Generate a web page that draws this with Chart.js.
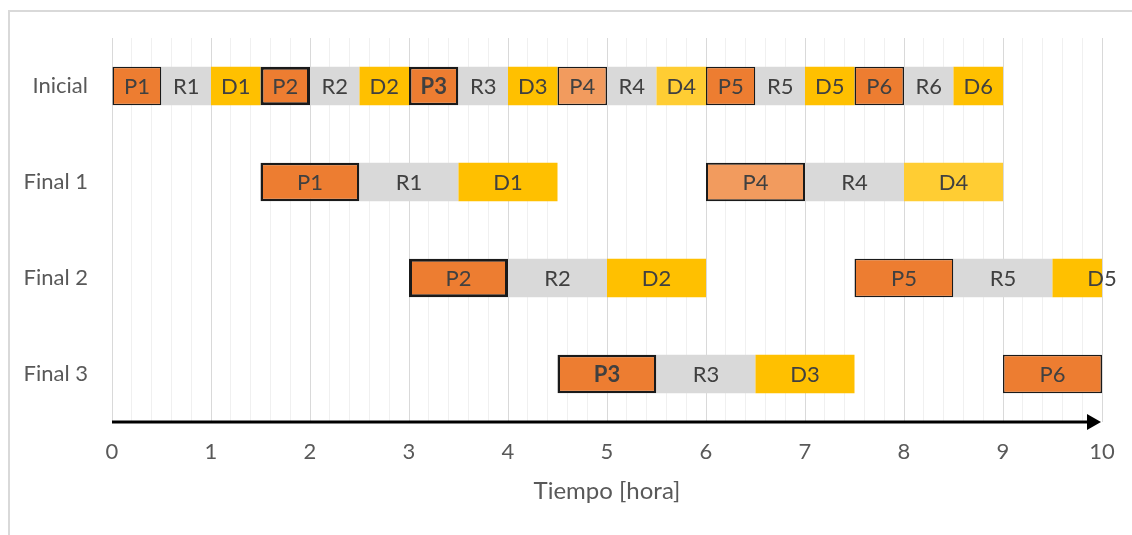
<!DOCTYPE html>
<html>
<head>
<meta charset="utf-8">
<script src="https://cdn.jsdelivr.net/npm/chart.js@4"></script>
<style>
  body { margin: 0; background: #fff; overflow: hidden; }
  #frame { position: absolute; left: 8px; top: 10px; width: 2000px; height: 2000px;
           border-left: 2px solid #d9d9d9; border-top: 2px solid #d9d9d9; }
  #wrap { position: absolute; left: 0; top: 0; width: 1132px; height: 535px; }
</style>
</head>
<body>
<div id="frame"></div>
<div id="wrap"><canvas id="gantt"></canvas></div>
<script>
// rows of the gantt
var rows = ['Inicial', 'Final 1', 'Final 2', 'Final 3'];

// one entry per bar segment
var segNames = ['P1', 'R1', 'D1', 'P2', 'R2', 'D2', 'P3', 'R3', 'D3', 'P4', 'R4', 'D4', 'P5', 'R5', 'D5', 'P6', 'R6', 'D6',
                'P1', 'R1', 'D1', 'P4', 'R4', 'D4',
                'P2', 'R2', 'D2', 'P5', 'R5', 'D5',
                'P3', 'R3', 'D3', 'P6'];
var segRows = ['Inicial', 'Inicial', 'Inicial', 'Inicial', 'Inicial', 'Inicial', 'Inicial', 'Inicial', 'Inicial',
               'Inicial', 'Inicial', 'Inicial', 'Inicial', 'Inicial', 'Inicial', 'Inicial', 'Inicial', 'Inicial',
               'Final 1', 'Final 1', 'Final 1', 'Final 1', 'Final 1', 'Final 1',
               'Final 2', 'Final 2', 'Final 2', 'Final 2', 'Final 2', 'Final 2',
               'Final 3', 'Final 3', 'Final 3', 'Final 3'];
var segStart = [0, 0.5, 1, 1.5, 2, 2.5, 3, 3.5, 4, 4.5, 5, 5.5, 6, 6.5, 7, 7.5, 8, 8.5,
                1.5, 2.5, 3.5, 6, 7, 8,
                3, 4, 5, 7.5, 8.5, 9.5,
                4.5, 5.5, 6.5, 9];
var segEnd = [0.5, 1, 1.5, 2, 2.5, 3, 3.5, 4, 4.5, 5, 5.5, 6, 6.5, 7, 7.5, 8, 8.5, 9,
              2.5, 3.5, 4.5, 7, 8, 9,
              4, 5, 6, 8.5, 9.5, 10.5,
              5.5, 6.5, 7.5, 10];

var xTickLabels = ['0', '1', '2', '3', '4', '5', '6', '7', '8', '9', '10'];

// styling
var fillColors = { P: '#ed7d31', R: '#d9d9d9', D: '#ffc000' };
var lightColors = { P4: '#f29b5e', D4: '#ffcd33' };
var thickBorders = { 3: 3, 6: 2.5, 18: 2.5, 21: 2, 24: 3, 30: 2.5 };
var boldNames = ['P3'];

var bgColors = segNames.map(function(n) { return lightColors[n] || fillColors[n[0]]; });
var bdWidths = segNames.map(function(n, i) {
    if (n[0] !== 'P') return 0;
    return thickBorders[i] || 1.5;
});

var points = segNames.map(function(n, i) {
    return { x: [segStart[i], segEnd[i]], y: segRows[i] };
});

var segLabelPlugin = {
    id: 'segLabels',
    afterDatasetsDraw: function(chart) {
        var ctx = chart.ctx;
        var meta = chart.getDatasetMeta(0);
        ctx.save();
        ctx.textAlign = 'center';
        ctx.textBaseline = 'middle';
        ctx.fillStyle = '#404040';
        meta.data.forEach(function(bar, i) {
            var p = bar.getProps(['x', 'y', 'base'], true);
            var bold = boldNames.indexOf(segNames[i]) >= 0;
            ctx.font = (bold ? 'bold ' : '') + '22px Lato';
            ctx.fillText(segNames[i], (p.x + p.base) / 2, p.y + 1);
        });
        ctx.restore();
    }
};

var arrowPlugin = {
    id: 'timeArrow',
    afterDraw: function(chart) {
        var ctx = chart.ctx;
        var x = chart.scales.x;
        var y = chart.chartArea.bottom;
        var x0 = x.getPixelForValue(0);
        var x1 = x.getPixelForValue(10) - 1;
        ctx.save();
        ctx.strokeStyle = '#000';
        ctx.fillStyle = '#000';
        ctx.lineWidth = 3;
        ctx.beginPath();
        ctx.moveTo(x0, y);
        ctx.lineTo(x1 - 10, y);
        ctx.stroke();
        ctx.beginPath();
        ctx.moveTo(x1, y);
        ctx.lineTo(x1 - 14, y - 8);
        ctx.lineTo(x1 - 14, y + 8);
        ctx.closePath();
        ctx.fill();
        ctx.restore();
    }
};

function isWhole(v) { return Math.abs(v - Math.round(v)) < 1e-6; }

new Chart(document.getElementById('gantt'), {
    type: 'bar',
    data: {
        labels: rows,
        datasets: [{
            data: points,
            backgroundColor: bgColors,
            borderColor: '#1a1a1a',
            borderWidth: bdWidths,
            borderSkipped: false,
            barPercentage: 0.4,
            categoryPercentage: 1
        }]
    },
    options: {
        indexAxis: 'y',
        responsive: true,
        maintainAspectRatio: false,
        animation: false,
        layout: { padding: { top: 38, left: 0, right: 30, bottom: 29 } },
        plugins: { legend: { display: false }, tooltip: { enabled: false } },
        scales: {
            x: {
                min: 0,
                max: 10,
                border: { display: false },
                grid: {
                    drawTicks: false,
                    color: function(c) { return isWhole(c.tick.value) ? '#d9d9d9' : '#f0f0f0'; },
                    lineWidth: 1
                },
                ticks: {
                    stepSize: 0.2,
                    autoSkip: false,
                    maxRotation: 0,
                    padding: 17,
                    color: '#595959',
                    font: { family: 'Lato', size: 22 },
                    callback: function(v) { return isWhole(v) ? xTickLabels[Math.round(v)] : ''; }
                },
                title: {
                    display: true,
                    text: 'Tiempo [hora]',
                    color: '#595959',
                    font: { family: 'Lato', size: 24 },
                    padding: { top: 0, bottom: 0 }
                },
                afterFit: function(s) { s.height = 84; }
            },
            y: {
                border: { display: false },
                grid: { display: false, drawTicks: false },
                ticks: {
                    padding: 24,
                    color: '#595959',
                    font: { family: 'Lato', size: 22 }
                },
                afterFit: function(s) { s.width = 112; }
            }
        }
    },
    plugins: [segLabelPlugin, arrowPlugin]
});
</script>
</body>
</html>
